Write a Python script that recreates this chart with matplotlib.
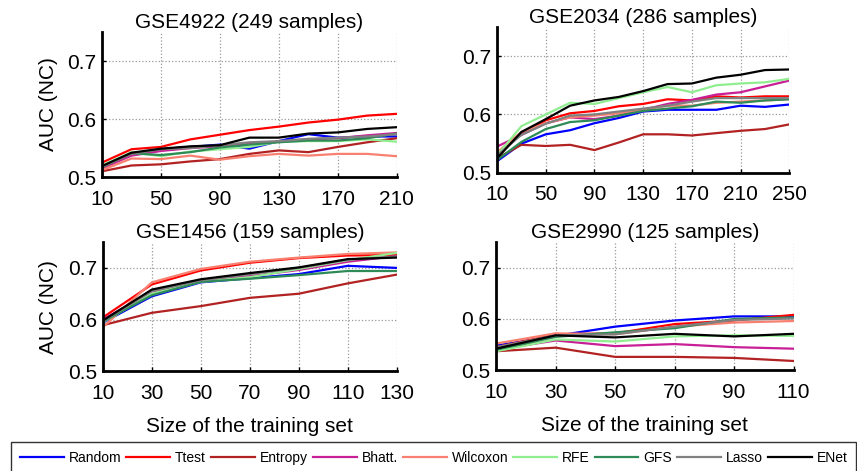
"""AUC (NC) vs training set size for four GEO datasets."""

import matplotlib
matplotlib.use("Agg")
import matplotlib.pyplot as plt

plt.rcParams["font.family"] = ["Liberation Sans", "DejaVu Sans"]

methods = ["Random", "Ttest", "Entropy", "Bhatt.", "Wilcoxon", "RFE", "GFS", "Lasso", "ENet"]
colors = ["#0000ff", "#ff0000", "#b22222", "#c81e96", "#f88070",
          "#90ee90", "#2e8b57", "#808080", "#000000"]

# GSE4922 (249 samples)
x_4922 = [10, 30, 50, 70, 90, 110, 130, 150, 170, 190, 210]
auc_4922 = {
    "Random":   [0.518, 0.540, 0.548, 0.552, 0.556, 0.549, 0.562, 0.574, 0.568, 0.570, 0.570],
    "Ttest":    [0.525, 0.548, 0.552, 0.565, 0.573, 0.581, 0.587, 0.594, 0.599, 0.606, 0.609],
    "Entropy":  [0.510, 0.520, 0.522, 0.527, 0.531, 0.540, 0.546, 0.543, 0.552, 0.560, 0.567],
    "Bhatt.":   [0.515, 0.537, 0.545, 0.550, 0.553, 0.557, 0.561, 0.565, 0.567, 0.572, 0.576],
    "Wilcoxon": [0.512, 0.532, 0.531, 0.537, 0.530, 0.536, 0.540, 0.537, 0.540, 0.540, 0.536],
    "RFE":      [0.520, 0.543, 0.536, 0.544, 0.548, 0.552, 0.561, 0.562, 0.562, 0.565, 0.561],
    "GFS":      [0.517, 0.541, 0.538, 0.543, 0.551, 0.556, 0.560, 0.563, 0.563, 0.567, 0.575],
    "Lasso":    [0.518, 0.540, 0.548, 0.550, 0.555, 0.560, 0.562, 0.566, 0.568, 0.570, 0.574],
    "ENet":     [0.519, 0.542, 0.549, 0.553, 0.555, 0.568, 0.568, 0.575, 0.577, 0.583, 0.586],
}

# GSE2034 (286 samples)
x_2034 = [10, 30, 50, 70, 90, 110, 130, 150, 170, 190, 210, 230, 250]
auc_2034 = {
    "Random":   [0.520, 0.550, 0.566, 0.573, 0.585, 0.594, 0.605, 0.608, 0.608, 0.608, 0.615, 0.613, 0.617],
    "Ttest":    [0.530, 0.568, 0.590, 0.602, 0.606, 0.614, 0.618, 0.626, 0.624, 0.631, 0.629, 0.631, 0.631],
    "Entropy":  [0.525, 0.548, 0.546, 0.548, 0.539, 0.552, 0.566, 0.566, 0.564, 0.568, 0.572, 0.575, 0.583],
    "Bhatt.":   [0.545, 0.565, 0.585, 0.595, 0.592, 0.598, 0.608, 0.618, 0.625, 0.634, 0.638, 0.648, 0.658],
    "Wilcoxon": [0.535, 0.570, 0.585, 0.595, 0.598, 0.602, 0.608, 0.615, 0.615, 0.620, 0.622, 0.624, 0.626],
    "RFE":      [0.530, 0.580, 0.600, 0.620, 0.618, 0.628, 0.638, 0.647, 0.638, 0.650, 0.653, 0.655, 0.661],
    "GFS":      [0.522, 0.553, 0.575, 0.587, 0.590, 0.598, 0.606, 0.610, 0.614, 0.622, 0.620, 0.624, 0.626],
    "Lasso":    [0.530, 0.565, 0.584, 0.598, 0.600, 0.605, 0.610, 0.615, 0.622, 0.628, 0.628, 0.628, 0.628],
    "ENet":     [0.525, 0.570, 0.592, 0.615, 0.624, 0.630, 0.640, 0.652, 0.653, 0.663, 0.668, 0.676, 0.677],
}

# GSE1456 (159 samples)
x_1456 = [10, 30, 50, 70, 90, 110, 130]
auc_1456 = {
    "Random":   [0.594, 0.645, 0.672, 0.680, 0.688, 0.704, 0.700],
    "Ttest":    [0.604, 0.668, 0.695, 0.710, 0.719, 0.724, 0.725],
    "Entropy":  [0.589, 0.613, 0.626, 0.642, 0.650, 0.670, 0.687],
    "Bhatt.":   [0.600, 0.654, 0.675, 0.684, 0.696, 0.712, 0.723],
    "Wilcoxon": [0.585, 0.672, 0.698, 0.712, 0.720, 0.727, 0.730],
    "RFE":      [0.595, 0.650, 0.673, 0.682, 0.698, 0.715, 0.729],
    "GFS":      [0.596, 0.647, 0.673, 0.679, 0.686, 0.694, 0.694],
    "Lasso":    [0.597, 0.655, 0.676, 0.688, 0.700, 0.716, 0.722],
    "ENet":     [0.598, 0.658, 0.678, 0.690, 0.701, 0.717, 0.720],
}

# GSE2990 (125 samples)
x_2990 = [10, 30, 50, 70, 90, 110]
auc_2990 = {
    "Random":   [0.548, 0.567, 0.585, 0.597, 0.605, 0.605],
    "Ttest":    [0.545, 0.570, 0.572, 0.590, 0.597, 0.608],
    "Entropy":  [0.537, 0.544, 0.526, 0.526, 0.524, 0.518],
    "Bhatt.":   [0.540, 0.558, 0.547, 0.551, 0.545, 0.542],
    "Wilcoxon": [0.552, 0.572, 0.570, 0.585, 0.593, 0.596],
    "RFE":      [0.537, 0.560, 0.556, 0.566, 0.568, 0.567],
    "GFS":      [0.540, 0.565, 0.574, 0.582, 0.600, 0.603],
    "Lasso":    [0.545, 0.568, 0.570, 0.585, 0.598, 0.601],
    "ENet":     [0.542, 0.568, 0.564, 0.571, 0.566, 0.571],
}

panels = [
    ("GSE4922 (249 samples)", x_4922, auc_4922, [10, 50, 90, 130, 170, 210], [0.119, 0.624, 0.344, 0.308]),
    ("GSE2034 (286 samples)", x_2034, auc_2034, [10, 50, 90, 130, 170, 210, 250], [0.580, 0.633, 0.341, 0.310]),
    ("GSE1456 (159 samples)", x_1456, auc_1456, [10, 30, 50, 70, 90, 110, 130], [0.120, 0.212, 0.343, 0.274]),
    ("GSE2990 (125 samples)", x_2990, auc_2990, [10, 30, 50, 70, 90, 110], [0.579, 0.214, 0.347, 0.272]),
]

fig = plt.figure(figsize=(8.57, 4.71), dpi=100)

handles = []
for i, (title, xs, data, xticks, rect) in enumerate(panels):
    ax = fig.add_axes(rect)
    for name, color in zip(methods, colors):
        line, = ax.plot(xs, data[name], color=color, lw=1.6, label=name)
        if i == 0:
            handles.append(line)
    ax.set_xlim(xs[0], xs[-1])
    ax.set_ylim(0.5, 0.75)
    ax.set_xticks(xticks)
    ax.set_yticks([0.5, 0.6, 0.7])
    ax.set_yticklabels(["0.5", "0.6", "0.7"])
    ax.grid(True, color="#999999", linestyle=":", linewidth=0.9)
    ax.tick_params(direction="in", length=3, width=1, labelsize=15, pad=4)
    ax.tick_params(axis="x", pad=9)
    for side in ("top", "right"):
        ax.spines[side].set_visible(False)
    for side in ("left", "bottom"):
        ax.spines[side].set_linewidth(2)
    ax.set_title(title, fontsize=15, pad=3)
    if i % 2 == 0:
        ax.set_ylabel("AUC (NC)", fontsize=15, labelpad=7)
    if i >= 2:
        ax.set_xlabel("Size of the training set", fontsize=15, labelpad=10)

leg = fig.legend(handles=handles, loc="upper left", bbox_to_anchor=(11 / 857, 1 - 442 / 471),
                 ncol=9, fontsize=10, handlelength=3.15, handletextpad=0.36, columnspacing=0.36,
                 borderpad=0.65, borderaxespad=0, fancybox=False, frameon=True)
leg.get_frame().set_edgecolor("black")
leg.get_frame().set_linewidth(1.0)

fig.savefig("out.png", dpi=100)
